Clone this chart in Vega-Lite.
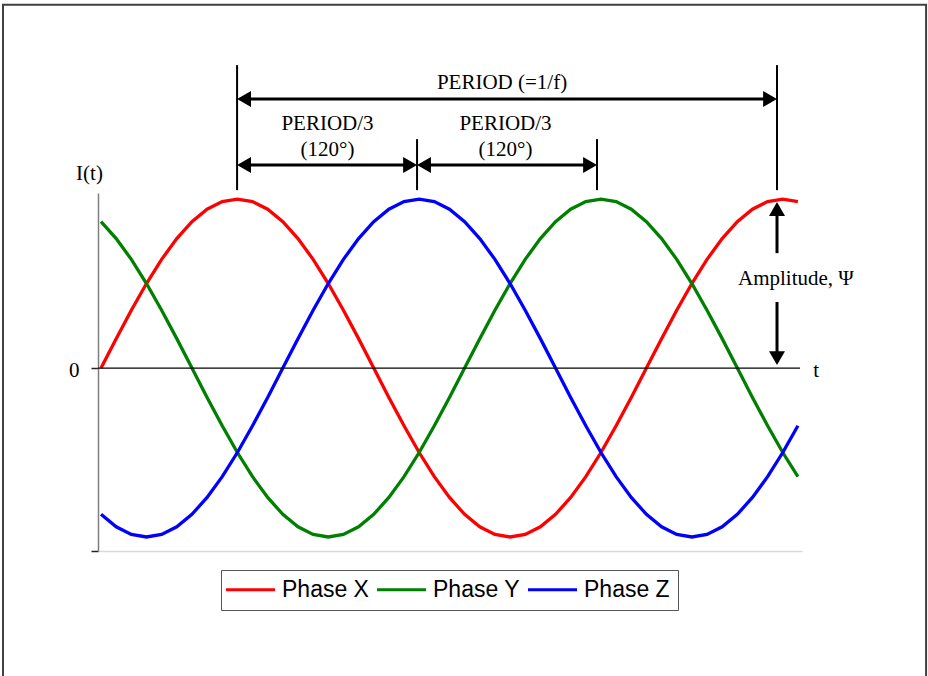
{
  "$schema": "https://vega.github.io/schema/vega-lite/v6.json",
  "autosize": "none",
  "width": 704,
  "height": 358,
  "padding": {"left": 98, "top": 193, "right": 126, "bottom": 125},
  "background": "white",
  "config": {"view": {"stroke": null}},
  "datasets": {
    "waves": [
      {"t":0,"phase":"Phase X","v":0},{"t":0,"phase":"Phase Y","v":0.866},{"t":0,"phase":"Phase Z","v":-0.866},
      {"t":10,"phase":"Phase X","v":0.174},{"t":10,"phase":"Phase Y","v":0.766},{"t":10,"phase":"Phase Z","v":-0.94},
      {"t":20,"phase":"Phase X","v":0.342},{"t":20,"phase":"Phase Y","v":0.643},{"t":20,"phase":"Phase Z","v":-0.985},
      {"t":30,"phase":"Phase X","v":0.5},{"t":30,"phase":"Phase Y","v":0.5},{"t":30,"phase":"Phase Z","v":-1},
      {"t":40,"phase":"Phase X","v":0.643},{"t":40,"phase":"Phase Y","v":0.342},{"t":40,"phase":"Phase Z","v":-0.985},
      {"t":50,"phase":"Phase X","v":0.766},{"t":50,"phase":"Phase Y","v":0.174},{"t":50,"phase":"Phase Z","v":-0.94},
      {"t":60,"phase":"Phase X","v":0.866},{"t":60,"phase":"Phase Y","v":0},{"t":60,"phase":"Phase Z","v":-0.866},
      {"t":70,"phase":"Phase X","v":0.94},{"t":70,"phase":"Phase Y","v":-0.174},{"t":70,"phase":"Phase Z","v":-0.766},
      {"t":80,"phase":"Phase X","v":0.985},{"t":80,"phase":"Phase Y","v":-0.342},{"t":80,"phase":"Phase Z","v":-0.643},
      {"t":90,"phase":"Phase X","v":1},{"t":90,"phase":"Phase Y","v":-0.5},{"t":90,"phase":"Phase Z","v":-0.5},
      {"t":100,"phase":"Phase X","v":0.985},{"t":100,"phase":"Phase Y","v":-0.643},{"t":100,"phase":"Phase Z","v":-0.342},
      {"t":110,"phase":"Phase X","v":0.94},{"t":110,"phase":"Phase Y","v":-0.766},{"t":110,"phase":"Phase Z","v":-0.174},
      {"t":120,"phase":"Phase X","v":0.866},{"t":120,"phase":"Phase Y","v":-0.866},{"t":120,"phase":"Phase Z","v":0},
      {"t":130,"phase":"Phase X","v":0.766},{"t":130,"phase":"Phase Y","v":-0.94},{"t":130,"phase":"Phase Z","v":0.174},
      {"t":140,"phase":"Phase X","v":0.643},{"t":140,"phase":"Phase Y","v":-0.985},{"t":140,"phase":"Phase Z","v":0.342},
      {"t":150,"phase":"Phase X","v":0.5},{"t":150,"phase":"Phase Y","v":-1},{"t":150,"phase":"Phase Z","v":0.5},
      {"t":160,"phase":"Phase X","v":0.342},{"t":160,"phase":"Phase Y","v":-0.985},{"t":160,"phase":"Phase Z","v":0.643},
      {"t":170,"phase":"Phase X","v":0.174},{"t":170,"phase":"Phase Y","v":-0.94},{"t":170,"phase":"Phase Z","v":0.766},
      {"t":180,"phase":"Phase X","v":0},{"t":180,"phase":"Phase Y","v":-0.866},{"t":180,"phase":"Phase Z","v":0.866},
      {"t":190,"phase":"Phase X","v":-0.174},{"t":190,"phase":"Phase Y","v":-0.766},{"t":190,"phase":"Phase Z","v":0.94},
      {"t":200,"phase":"Phase X","v":-0.342},{"t":200,"phase":"Phase Y","v":-0.643},{"t":200,"phase":"Phase Z","v":0.985},
      {"t":210,"phase":"Phase X","v":-0.5},{"t":210,"phase":"Phase Y","v":-0.5},{"t":210,"phase":"Phase Z","v":1},
      {"t":220,"phase":"Phase X","v":-0.643},{"t":220,"phase":"Phase Y","v":-0.342},{"t":220,"phase":"Phase Z","v":0.985},
      {"t":230,"phase":"Phase X","v":-0.766},{"t":230,"phase":"Phase Y","v":-0.174},{"t":230,"phase":"Phase Z","v":0.94},
      {"t":240,"phase":"Phase X","v":-0.866},{"t":240,"phase":"Phase Y","v":0},{"t":240,"phase":"Phase Z","v":0.866},
      {"t":250,"phase":"Phase X","v":-0.94},{"t":250,"phase":"Phase Y","v":0.174},{"t":250,"phase":"Phase Z","v":0.766},
      {"t":260,"phase":"Phase X","v":-0.985},{"t":260,"phase":"Phase Y","v":0.342},{"t":260,"phase":"Phase Z","v":0.643},
      {"t":270,"phase":"Phase X","v":-1},{"t":270,"phase":"Phase Y","v":0.5},{"t":270,"phase":"Phase Z","v":0.5},
      {"t":280,"phase":"Phase X","v":-0.985},{"t":280,"phase":"Phase Y","v":0.643},{"t":280,"phase":"Phase Z","v":0.342},
      {"t":290,"phase":"Phase X","v":-0.94},{"t":290,"phase":"Phase Y","v":0.766},{"t":290,"phase":"Phase Z","v":0.174},
      {"t":300,"phase":"Phase X","v":-0.866},{"t":300,"phase":"Phase Y","v":0.866},{"t":300,"phase":"Phase Z","v":0},
      {"t":310,"phase":"Phase X","v":-0.766},{"t":310,"phase":"Phase Y","v":0.94},{"t":310,"phase":"Phase Z","v":-0.174},
      {"t":320,"phase":"Phase X","v":-0.643},{"t":320,"phase":"Phase Y","v":0.985},{"t":320,"phase":"Phase Z","v":-0.342},
      {"t":330,"phase":"Phase X","v":-0.5},{"t":330,"phase":"Phase Y","v":1},{"t":330,"phase":"Phase Z","v":-0.5},
      {"t":340,"phase":"Phase X","v":-0.342},{"t":340,"phase":"Phase Y","v":0.985},{"t":340,"phase":"Phase Z","v":-0.643},
      {"t":350,"phase":"Phase X","v":-0.174},{"t":350,"phase":"Phase Y","v":0.94},{"t":350,"phase":"Phase Z","v":-0.766},
      {"t":360,"phase":"Phase X","v":0},{"t":360,"phase":"Phase Y","v":0.866},{"t":360,"phase":"Phase Z","v":-0.866},
      {"t":370,"phase":"Phase X","v":0.174},{"t":370,"phase":"Phase Y","v":0.766},{"t":370,"phase":"Phase Z","v":-0.94},
      {"t":380,"phase":"Phase X","v":0.342},{"t":380,"phase":"Phase Y","v":0.643},{"t":380,"phase":"Phase Z","v":-0.985},
      {"t":390,"phase":"Phase X","v":0.5},{"t":390,"phase":"Phase Y","v":0.5},{"t":390,"phase":"Phase Z","v":-1},
      {"t":400,"phase":"Phase X","v":0.643},{"t":400,"phase":"Phase Y","v":0.342},{"t":400,"phase":"Phase Z","v":-0.985},
      {"t":410,"phase":"Phase X","v":0.766},{"t":410,"phase":"Phase Y","v":0.174},{"t":410,"phase":"Phase Z","v":-0.94},
      {"t":420,"phase":"Phase X","v":0.866},{"t":420,"phase":"Phase Y","v":0},{"t":420,"phase":"Phase Z","v":-0.866},
      {"t":430,"phase":"Phase X","v":0.94},{"t":430,"phase":"Phase Y","v":-0.174},{"t":430,"phase":"Phase Z","v":-0.766},
      {"t":440,"phase":"Phase X","v":0.985},{"t":440,"phase":"Phase Y","v":-0.342},{"t":440,"phase":"Phase Z","v":-0.643},
      {"t":450,"phase":"Phase X","v":1},{"t":450,"phase":"Phase Y","v":-0.5},{"t":450,"phase":"Phase Z","v":-0.5},
      {"t":460,"phase":"Phase X","v":0.985},{"t":460,"phase":"Phase Y","v":-0.643},{"t":460,"phase":"Phase Z","v":-0.342}
    ],
    "vlines": [
      {"t":89.8,"v1":1.053,"v2":1.793},
      {"t":208.6,"v1":1.053,"v2":1.355},
      {"t":327.4,"v1":1.053,"v2":1.355},
      {"t":446.2,"v1":1.053,"v2":1.793}
    ],
    "hshafts": [
      {"t1":94.4,"t2":441.6,"v":1.592},
      {"t1":94.4,"t2":204.0,"v":1.201},
      {"t1":213.2,"t2":322.8,"v":1.201}
    ],
    "vshafts": [
      {"t":446.2,"v1":0.941,"v2":0.68},
      {"t":446.2,"v1":0.391,"v2":0.059}
    ],
    "heads": [
      {"t":94.4,"v":1.592,"dir":"left"},
      {"t":441.6,"v":1.592,"dir":"right"},
      {"t":94.4,"v":1.201,"dir":"left"},
      {"t":204.0,"v":1.201,"dir":"right"},
      {"t":213.2,"v":1.201,"dir":"left"},
      {"t":322.8,"v":1.201,"dir":"right"},
      {"t":446.2,"v":0.941,"dir":"up"},
      {"t":446.2,"v":0.059,"dir":"down"}
    ],
    "labels": [
      {"t":264.7,"v":1.651,"label":"PERIOD (=1/f)"},
      {"t":149.5,"v":1.408,"label":"PERIOD/3"},
      {"t":267,"v":1.408,"label":"PERIOD/3"},
      {"t":149.5,"v":1.254,"label":"(120°)"},
      {"t":267,"v":1.254,"label":"(120°)"},
      {"t":458.7,"v":0.491,"label":"Amplitude, Ψ"},
      {"t":472,"v":-0.053,"label":"t"}
    ]
  },
  "layer": [
    {
      "data": {"name": "waves"},
      "mark": {"type": "line", "strokeWidth": 3.3, "interpolate": "linear"},
      "encoding": {
        "x": {"field": "t", "type": "quantitative",
              "scale": {"domain": [-2, 462.7], "nice": false, "zero": false},
              "axis": {"title": null, "ticks": false, "labels": false, "grid": false,
                       "domainColor": "#d9d9d9", "domainWidth": 1.5}},
        "y": {"field": "v", "type": "quantitative",
              "scale": {"domain": [-1.083, 1.036], "nice": false, "zero": false},
              "axis": {"title": "I(t)", "values": [-1.083, 0], "grid": false,
                       "labelExpr": "datum.value == 0 ? '0' : ''",
                       "domainColor": "#7f7f7f", "domainWidth": 1.5,
                       "tickColor": "#222222", "tickSize": 7, "tickWidth": 1.5,
                       "labelFont": "Liberation Serif", "labelFontSize": 21, "labelColor": "#000000",
                       "labelPadding": 12, "labelOffset": 2,
                       "titleFont": "Liberation Serif", "titleFontSize": 21, "titleFontWeight": "normal",
                       "titleColor": "#000000", "titleAngle": 0, "titleAlign": "center",
                       "titleBaseline": "alphabetic", "titleX": -9, "titleY": -14}},
        "color": {"field": "phase", "type": "nominal",
                  "scale": {"domain": ["Phase X", "Phase Y", "Phase Z"], "range": ["#ff0000", "#008000", "#0000ff"]},
                  "legend": {"title": null, "orient": "none", "legendX": 123, "legendY": 377,
                             "direction": "horizontal", "symbolType": "M-3,0H3", "symbolSize": 267,
                             "symbolOffset": 10, "symbolStrokeWidth": 3, "labelFont": "Liberation Sans", "labelFontSize": 23,
                             "labelColor": "#000000", "labelOffset": 20, "columnPadding": 1, "labelLimit": 300,
                             "strokeColor": "#555555", "padding": 8, "fillColor": "white"}}
      }
    },
    {
      "data": {"values": [{}]},
      "mark": {"type": "rule", "color": "#000000", "strokeWidth": 1.3},
      "encoding": {
        "x": {"datum": -2, "type": "quantitative"},
        "x2": {"datum": 461.4},
        "y": {"datum": 0, "type": "quantitative"}
      }
    },
    {
      "data": {"values": [{}]},
      "mark": {"type": "rect", "filled": false, "stroke": "#404040", "strokeWidth": 2},
      "encoding": {
        "x": {"datum": -64.7, "type": "quantitative"},
        "x2": {"datum": 544.6},
        "y": {"datum": 2.15, "type": "quantitative"},
        "y2": {"datum": -1.95}
      }
    },
    {
      "data": {"name": "vlines"},
      "mark": {"type": "rule", "color": "#000000", "strokeWidth": 2},
      "encoding": {
        "x": {"field": "t", "type": "quantitative"},
        "y": {"field": "v1", "type": "quantitative"},
        "y2": {"field": "v2"}
      }
    },
    {
      "data": {"name": "hshafts"},
      "mark": {"type": "rule", "color": "#000000", "strokeWidth": 3},
      "encoding": {
        "x": {"field": "t1", "type": "quantitative"},
        "x2": {"field": "t2"},
        "y": {"field": "v", "type": "quantitative"}
      }
    },
    {
      "data": {"name": "vshafts"},
      "mark": {"type": "rule", "color": "#000000", "strokeWidth": 3},
      "encoding": {
        "x": {"field": "t", "type": "quantitative"},
        "y": {"field": "v1", "type": "quantitative"},
        "y2": {"field": "v2"}
      }
    },
    {
      "data": {"name": "heads"},
      "mark": {"type": "point", "filled": true, "color": "#000000", "size": 256, "opacity": 1},
      "encoding": {
        "x": {"field": "t", "type": "quantitative"},
        "y": {"field": "v", "type": "quantitative"},
        "shape": {"field": "dir", "type": "nominal",
                  "scale": {"domain": ["left", "right", "up", "down"],
                            "range": ["triangle-left", "triangle-right", "triangle-up", "triangle-down"]},
                  "legend": null}
      }
    },
    {
      "data": {"name": "labels"},
      "mark": {"type": "text", "font": "Liberation Serif", "fontSize": 21, "color": "#000000",
               "align": "center", "baseline": "alphabetic"},
      "encoding": {
        "x": {"field": "t", "type": "quantitative"},
        "y": {"field": "v", "type": "quantitative"},
        "text": {"field": "label", "type": "nominal"}
      }
    }
  ]
}
